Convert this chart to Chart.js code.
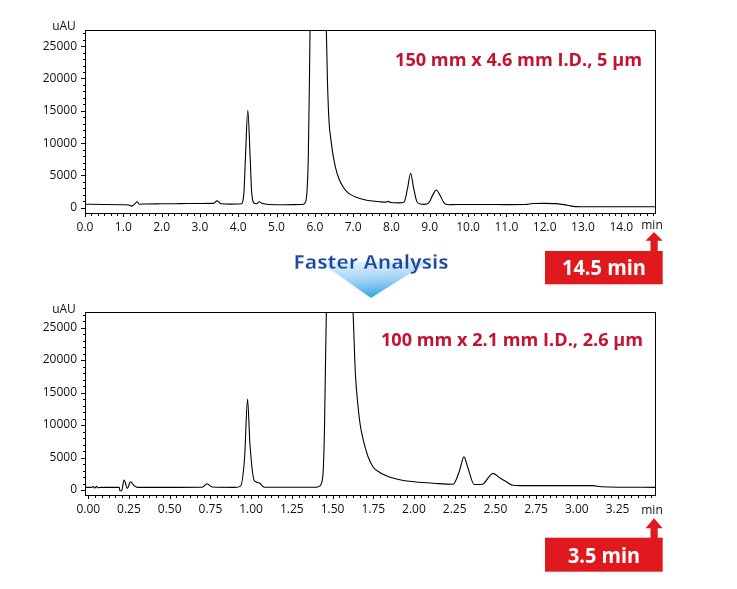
<!DOCTYPE html>
<html><head><meta charset="utf-8">
<script src="https://cdn.jsdelivr.net/npm/chart.js@4.4.1/dist/chart.umd.min.js"></script>
<style>
html,body{margin:0;padding:0;background:#fff;}
#wrap{position:relative;width:737px;height:589px;overflow:hidden;background:#fff;}
#wrap canvas{position:absolute;left:0;width:737px;height:240px;}
#c1{top:0;}
#c2{top:282px;}
#ann{position:absolute;left:0;top:0;pointer-events:none;}
</style></head><body>
<div id="wrap">
<canvas id="c1" width="737" height="240"></canvas>
<canvas id="c2" width="737" height="240"></canvas>
<svg id="ann" width="737" height="589" viewBox="0 0 737 589" xmlns="http://www.w3.org/2000/svg">
  <defs>
    <linearGradient id="tri" x1="0" y1="0" x2="0.15" y2="1">
      <stop offset="0" stop-color="#e4f4fd"/>
      <stop offset="0.55" stop-color="#9fd3f4"/>
      <stop offset="1" stop-color="#3fa9e6"/>
    </linearGradient>
  </defs>
  <text x="64" y="30" text-anchor="middle" font-family="Open Sans" font-size="12" fill="#111">uAU</text>
  <text x="64" y="313" text-anchor="middle" font-family="Open Sans" font-size="12" fill="#111">uAU</text>
  <text x="652" y="229" text-anchor="middle" font-family="Open Sans" font-size="12" fill="#111">min</text>
  <text x="652" y="514" text-anchor="middle" font-family="Open Sans" font-size="12" fill="#111">min</text>
  <text id="t1" x="642" y="66" text-anchor="end" font-family="Open Sans" font-weight="700" font-size="18.5" fill="#c4122f" textLength="247" lengthAdjust="spacingAndGlyphs"></text>
  <text id="t2" x="643" y="346" text-anchor="end" font-family="Open Sans" font-weight="700" font-size="18.5" fill="#c4122f" textLength="262" lengthAdjust="spacingAndGlyphs"></text>
  <polygon points="320,262 428,262 371,298" fill="url(#tri)"/>
  <text id="fa" x="371" y="269" text-anchor="middle" font-family="Open Sans" font-weight="700" font-size="19.5" fill="#1a4a9e" stroke="#fff" stroke-width="0.3" textLength="155" lengthAdjust="spacingAndGlyphs"></text>
  <polygon points="654,232 662.7,240.7 657.7,240.7 657.7,252 650.5,252 650.5,240.7 645.5,240.7" fill="#e0191f"/>
  <rect x="545" y="251" width="117.7" height="33.3" fill="#e0191f"/>
  <text id="b1" x="604" y="274.5" text-anchor="middle" font-family="Open Sans" font-weight="700" font-size="22" fill="#fff" textLength="84" lengthAdjust="spacingAndGlyphs"></text>
  <polygon points="654,518.3 662.7,528.3 657.7,528.3 657.7,538.5 650.5,538.5 650.5,528.3 645.5,528.3" fill="#e0191f"/>
  <rect x="545" y="537.7" width="117.7" height="34" fill="#e0191f"/>
  <text id="b2" x="604" y="562.5" text-anchor="middle" font-family="Open Sans" font-weight="700" font-size="22" fill="#fff" textLength="72" lengthAdjust="spacingAndGlyphs"></text>
</svg>
</div>
<script>
// ---- data ----
const topTime = [0.00,0.50,1.00,1.15,1.22,1.30,1.36,1.42,1.60,2.00,2.50,3.00,3.35,3.45,3.55,3.80,4.05,4.10,4.15,4.19,4.25,4.31,4.35,4.40,4.47,4.55,4.62,4.80,5.20,5.60,5.70,5.76,5.80,5.83,5.86,5.88,6.08,6.30,6.33,6.37,6.42,6.48,6.55,6.63,6.72,6.82,6.95,7.10,7.30,7.50,7.69,7.85,7.92,7.98,8.20,8.33,8.42,8.50,8.58,8.66,8.75,8.85,8.98,9.08,9.17,9.27,9.37,9.48,9.70,10.0,10.5,11.0,11.5,11.7,12.0,12.3,12.6,12.8,13.0,14.88];
const topSignal = [560,520,470,430,270,600,930,560,600,620,650,680,690,1080,640,580,600,700,2500,8000,15100,8000,2500,800,620,940,700,520,480,520,560,950,3000,8000,20000,30000,60000,27500,19500,13400,10500,8000,6000,4500,3400,2600,2000,1600,1250,1050,940,880,1000,820,760,900,3000,5350,3000,1000,600,540,800,2000,2750,1900,800,480,520,520,510,500,520,680,690,650,400,180,160,160];

const bottomTime = [-0.02,0.02,0.03,0.04,0.05,0.06,0.08,0.19,0.195,0.205,0.22,0.24,0.26,0.28,0.30,0.50,0.70,0.73,0.76,0.90,0.935,0.96,0.978,0.993,1.02,1.05,1.08,1.40,1.42,1.44,1.45,1.465,1.55,1.626,1.64,1.656,1.67,1.687,1.70,1.72,1.75,1.79,1.83,1.87,1.92,1.97,2.05,2.12,2.24,2.28,2.307,2.33,2.37,2.42,2.46,2.485,2.53,2.567,2.60,2.65,3.10,3.15,3.48];
const bottomSignal = [410,410,520,300,560,350,410,410,-150,-100,1540,260,1280,700,410,410,420,970,450,400,600,5000,14000,7000,1400,1100,420,420,600,2050,8770,32000,60000,27400,18000,13000,10000,7900,6600,5000,3500,2700,2200,1850,1550,1350,1150,1030,880,3000,5100,3500,850,880,2000,2560,1800,1280,770,670,670,510,410];

const topXTicks = [0,1,2,3,4,5,6,7,8,9,10,11,12,13,14];
const bottomXTicks = [0,0.25,0.5,0.75,1,1.25,1.5,1.75,2,2.25,2.5,2.75,3,3.25];
const yTicks = [0,5000,10000,15000,20000,25000];

const topColumn = '150 mm x 4.6 mm I.D., 5 µm';
const bottomColumn = '100 mm x 2.1 mm I.D., 2.6 µm';
const middleLabel = 'Faster Analysis';
const topTimeLabel = '14.5 min';
const bottomTimeLabel = '3.5 min';

document.getElementById('t1').textContent = topColumn;
document.getElementById('t2').textContent = bottomColumn;
document.getElementById('fa').textContent = middleLabel;
document.getElementById('b1').textContent = topTimeLabel;
document.getElementById('b2').textContent = bottomTimeLabel;

const tickFont = {family: 'Open Sans', size: 12};

const framePlugin = {
  id: 'frame',
  afterDatasetsDraw(chart, args, opts) {
    const ctx = chart.ctx, a = chart.chartArea;
    const xs = chart.scales.x, ys = chart.scales.y;
    ctx.save();
    ctx.strokeStyle = '#000';
    ctx.lineWidth = 1;
    ctx.strokeRect(Math.round(a.left) + 0.5, Math.round(a.top) + 0.5,
                   Math.round(a.right - a.left), Math.round(a.bottom - a.top));
    ctx.beginPath();
    for (let v = Math.ceil(ys.min / 1000) * 1000; v <= ys.max; v += 1000) {
      const y = Math.round(ys.getPixelForValue(v)) + 0.5;
      const len = (v % 5000 === 0) ? 4 : 2;
      ctx.moveTo(a.left, y); ctx.lineTo(a.left - len, y);
    }
    const step = opts.minorStep;
    for (let k = 0; k * step <= xs.max + 1e-9; k++) {
      const t = k * step;
      const x = Math.round(xs.getPixelForValue(t)) + 0.5;
      const major = opts.majors.some(m => Math.abs(m - t) < 1e-6);
      ctx.moveTo(x, a.bottom); ctx.lineTo(x, a.bottom + (major ? 4 : 3));
    }
    ctx.stroke();
    ctx.restore();
  }
};

function makeChart(id, times, signal, xMin, xMax, xTicks, dec, minorStep, yMin, yMax) {
  return new Chart(document.getElementById(id), {
    type: 'line',
    data: {
      datasets: [{
        data: times.map((t, i) => ({x: t, y: signal[i]})),
        borderColor: '#000',
        borderWidth: 1.1,
        pointRadius: 0,
        fill: false,
        cubicInterpolationMode: 'monotone',
        clip: 0
      }]
    },
    options: {
      responsive: false,
      animation: false,
      devicePixelRatio: 1,
      layout: {padding: {left: 0, top: 30, right: 82, bottom: 3}},
      plugins: {legend: {display: false}, tooltip: {enabled: false}, frame: {minorStep, majors: xTicks}},
      scales: {
        x: {
          type: 'linear', min: xMin, max: xMax,
          afterBuildTicks: s => { s.ticks = xTicks.map(v => ({value: v})); },
          afterFit: s => { s.height = 24; },
          grid: {display: false, drawTicks: false},
          border: {display: false},
          ticks: {callback: v => Number(v).toFixed(dec), autoSkip: false, maxRotation: 0, padding: 7, font: tickFont, color: '#111'}
        },
        y: {
          type: 'linear', min: yMin, max: yMax,
          afterBuildTicks: s => { s.ticks = yTicks.map(v => ({value: v})); },
          afterFit: s => { s.width = 85; },
          grid: {display: false, drawTicks: false},
          border: {display: false},
          ticks: {callback: v => String(v), padding: 8, font: tickFont, color: '#111'}
        }
      }
    },
    plugins: [framePlugin]
  });
}

makeChart('c1', topTime, topSignal, 0, 14.88, topXTicks, 1, 1/6, -800, 27500);
makeChart('c2', bottomTime, bottomSignal, -0.02, 3.48, bottomXTicks, 2, 0.25/6, -770, 27400);
</script>
</body></html>
